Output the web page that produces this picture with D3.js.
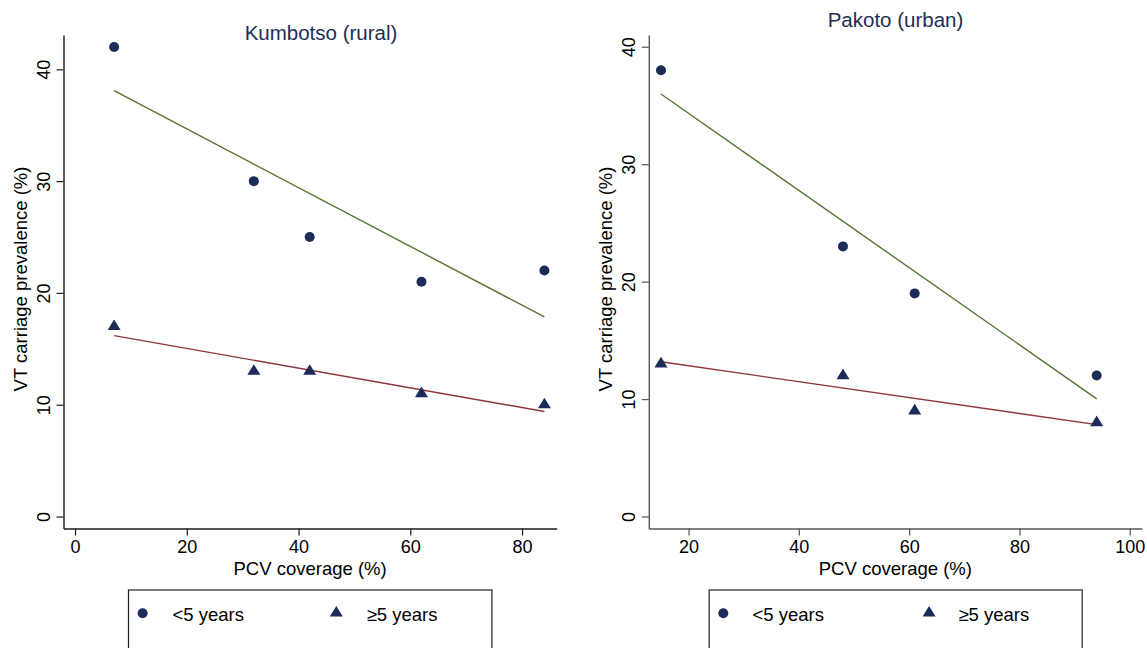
<!DOCTYPE html>
<html>
<head>
    <meta charset="utf-8">
    <title>VT carriage vs PCV coverage</title>
    <script src="https://d3js.org/d3.v7.min.js"></script>
    <style>
        body { margin: 0; background: #fff; }
        text { font-family: "Liberation Sans", Arial, Helvetica, sans-serif; }
    </style>
</head>
<body>
    <svg width="1147" height="648"></svg>

    <script>
        // data
        const panelTitles = ["Kumbotso (rural)", "Pakoto (urban)"];
        const ruralCoverage = [7, 32, 42, 62, 84];
        const ruralUnder5 = [42, 30, 25, 21, 22];
        const ruralOver5 = [17, 13, 13, 11, 10];
        const urbanCoverage = [15, 48, 61, 94];
        const urbanUnder5 = [38, 23, 19, 12];
        const urbanOver5 = [13, 12, 9, 8];
        const ruralXTicks = [0, 20, 40, 60, 80];
        const urbanXTicks = [20, 40, 60, 80, 100];
        const yTicks = [0, 10, 20, 30, 40];
        const legendLabels = ["<5 years", "\u22655 years"];

        const navy = "#1c2b58";
        const green = "#55752f";
        const maroon = "#90353b";

        const svg = d3.select("svg");

        // least squares fit, drawn over the range of the data
        function fit(xs, ys) {
            const mx = d3.mean(xs), my = d3.mean(ys);
            const b = d3.sum(xs, (x, i) => (x - mx) * (ys[i] - my)) / d3.sum(xs, x => (x - mx) * (x - mx));
            const a = my - b * mx;
            const x0 = d3.min(xs), x1 = d3.max(xs);
            return [[x0, a + b * x0], [x1, a + b * x1]];
        }

        const panels = [
            {
                title: panelTitles[0], titleX: 321, titleY: 40,
                xs: ruralCoverage, under: ruralUnder5, over: ruralOver5,
                xDomain: [-2.06, 86.2], xRange: [63.5, 556.7],
                yDomain: [-1.07, 43.07], xTicks: ruralXTicks,
                axisColor: "#1a1a1a",
                legend: { x0: 128.5, x1: 491.9, c: 142.6, t1: 172.5, tri: 336.3, t2: 366.7 }
            },
            {
                title: panelTitles[1], titleX: 895.5, titleY: 27,
                xs: urbanCoverage, under: urbanUnder5, over: urbanOver5,
                xDomain: [12.79, 102.2], xRange: [648.8, 1141.9],
                yDomain: [-1.02, 41.0], xTicks: urbanXTicks,
                axisColor: "#555",
                legend: { x0: 709.2, x1: 1082.2, c: 723.3, t1: 752.5, tri: 929.1, t2: 958.4 }
            }
        ];

        const yRange = [528.5, 35];
        const triangle = "M0,-6L6.5,4.6L-6.5,4.6Z";

        panels.forEach(p => {
            const x = d3.scaleLinear().domain(p.xDomain).range(p.xRange);
            const y = d3.scaleLinear().domain(p.yDomain).range(yRange);
            const g = svg.append("g");

            // axes
            const xAxis = g.append("g")
                .attr("transform", `translate(0,${yRange[0]})`)
                .call(d3.axisBottom(x).tickValues(p.xTicks).tickSize(7).tickPadding(5).tickSizeOuter(0));
            const yAxis = g.append("g")
                .attr("transform", `translate(${p.xRange[0]},0)`)
                .call(d3.axisLeft(y).tickValues(yTicks).tickSize(7).tickSizeOuter(0));

            [xAxis, yAxis].forEach(ax => {
                ax.select(".domain").attr("stroke", p.axisColor).attr("stroke-width", 1.4);
                ax.selectAll(".tick line").attr("stroke", p.axisColor).attr("stroke-width", 1.2);
                ax.selectAll(".tick text").attr("fill", "#000").style("font-size", "18px");
            });

            yAxis.selectAll(".tick text")
                .attr("x", null).attr("dy", null)
                .attr("text-anchor", "middle")
                .attr("transform", "translate(-14,0) rotate(-90)");

            // axis titles
            g.append("text")
                .attr("x", (p.xRange[0] + p.xRange[1]) / 2)
                .attr("y", 575)
                .attr("text-anchor", "middle")
                .style("font-size", "18.5px")
                .text("PCV coverage (%)");

            g.append("text")
                .attr("transform", `translate(${p.xRange[0] - 37},279) rotate(-90)`)
                .attr("text-anchor", "middle")
                .style("font-size", "18.5px")
                .text("VT carriage prevalence (%)");

            // panel title
            g.append("text")
                .attr("x", p.titleX)
                .attr("y", p.titleY)
                .attr("text-anchor", "middle")
                .attr("fill", "#1e2e55")
                .style("font-size", "20.5px")
                .text(p.title);

            // fitted lines
            const line = d3.line().x(d => x(d[0])).y(d => y(d[1]));
            g.append("path")
                .attr("d", line(fit(p.xs, p.under)))
                .attr("fill", "none").attr("stroke", green).attr("stroke-width", 1.4);
            g.append("path")
                .attr("d", line(fit(p.xs, p.over)))
                .attr("fill", "none").attr("stroke", maroon).attr("stroke-width", 1.4);

            // points
            g.selectAll(".under")
                .data(p.xs.map((v, i) => [v, p.under[i]]))
                .join("circle")
                .attr("cx", d => x(d[0]))
                .attr("cy", d => y(d[1]))
                .attr("r", 5)
                .attr("fill", navy);

            g.selectAll(".over")
                .data(p.xs.map((v, i) => [v, p.over[i]]))
                .join("path")
                .attr("transform", d => `translate(${x(d[0])},${y(d[1]) - 1})`)
                .attr("d", triangle)
                .attr("fill", navy);

            // legend
            const L = p.legend;
            g.append("rect")
                .attr("x", L.x0).attr("y", 590)
                .attr("width", L.x1 - L.x0).attr("height", 80)
                .attr("fill", "none").attr("stroke", "#222").attr("stroke-width", 1.2);
            g.append("circle").attr("cx", L.c).attr("cy", 613.3).attr("r", 5).attr("fill", navy);
            g.append("path").attr("transform", `translate(${L.tri},612)`).attr("d", triangle).attr("fill", navy);
            g.append("text").attr("x", L.t1).attr("y", 620.5).style("font-size", "18.5px").text(legendLabels[0]);
            g.append("text").attr("x", L.t2).attr("y", 620.5).style("font-size", "18.5px").text(legendLabels[1]);
        });
    </script>
</body>
</html>
